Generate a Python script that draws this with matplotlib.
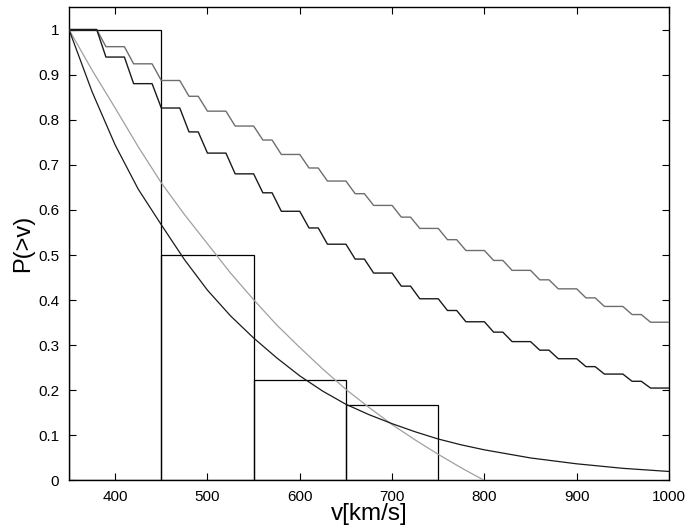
import numpy as np
import matplotlib
matplotlib.use("Agg")
import matplotlib.pyplot as plt

plt.rcParams['font.family'] = ['Liberation Sans', 'DejaVu Sans']

# histogram bins (left edges) and heights
bin_left = [350, 450, 550, 650]
bin_height = [1.0, 0.5, 0.2222, 0.1667]
bin_width = 100

# smooth curves
v_smooth = [350, 375, 400, 425, 450, 475, 500, 525, 550, 575, 600, 625, 650,
            675, 700, 725, 750, 775, 800, 850, 900, 950, 1000]
p_exp = [1.0, 0.862, 0.744, 0.646, 0.567, 0.490, 0.422, 0.365, 0.316, 0.272,
         0.232, 0.198, 0.169, 0.146, 0.126, 0.108, 0.092, 0.079, 0.068, 0.050,
         0.037, 0.027, 0.020]
v_gray = [350, 375, 400, 425, 450, 475, 500, 525, 550, 575, 600, 625, 650,
          675, 700, 725, 750, 775, 800]
p_gray = [1.0, 0.91, 0.826, 0.74, 0.66, 0.59, 0.525, 0.46, 0.401, 0.345,
          0.295, 0.247, 0.202, 0.162, 0.124, 0.09, 0.058, 0.028, 0.0]

# staircase curves, sampled every 10 km/s
v_grid = np.arange(350, 1001, 10)
p_upper = [1, 1, 1, 1, .962, .962, .962, .924, .924, .924,
           .887, .887, .887, .852, .852, .819, .819, .819, .786, .786,
           .786, .755, .755, .723, .723, .723, .693, .693, .664, .664,
           .664, .636, .636, .610, .610, .610, .584, .584, .559, .559,
           .559, .534, .534, .510, .510, .510, .488, .488, .466, .466,
           .466, .445, .445, .425, .425, .425, .405, .405, .386, .386,
           .386, .368, .368, .351, .351, .351]
p_lower = [1, 1, 1, 1, .939, .939, .939, .880, .880, .880,
           .826, .826, .826, .773, .773, .726, .726, .726, .680, .680,
           .680, .638, .638, .597, .597, .597, .560, .560, .524, .524,
           .524, .491, .491, .460, .460, .460, .431, .431, .403, .403,
           .403, .377, .377, .352, .352, .352, .329, .329, .308, .308,
           .308, .289, .289, .270, .270, .270, .2525, .2525, .236, .236,
           .236, .220, .220, .205, .205, .205]

fig = plt.figure(figsize=(6.88, 5.30), dpi=100)
ax = fig.add_axes([0.1003, 0.0934, 0.8721, 0.8934])

ax.bar(bin_left, bin_height, width=bin_width, align='edge', fill=False,
       edgecolor='black', linewidth=0.9, zorder=2)
ax.plot(v_gray, p_gray, color='#a0a0a0', linewidth=0.9, zorder=3)
ax.plot(v_smooth, p_exp, color='#1a1a1a', linewidth=0.9, zorder=3)
ax.plot(v_grid, p_upper, color='#6e6e6e', linewidth=1.0, zorder=3)
ax.plot(v_grid, p_lower, color='#1a1a1a', linewidth=1.0, zorder=3)

ax.set_xlim(350, 1000)
ax.set_ylim(0, 1.05)
ax.set_xticks(np.arange(400, 1001, 100))
ax.set_yticks(np.arange(0, 1.01, 0.1))
ax.set_yticklabels(['0', '0.1', '0.2', '0.3', '0.4', '0.5', '0.6', '0.7',
                    '0.8', '0.9', '1'])
ax.tick_params(direction='in', top=True, right=True, length=5, width=0.8,
               labelsize=11)
ax.tick_params(axis='x', pad=7)
ax.tick_params(axis='y', pad=7)
for s in ax.spines.values():
    s.set_linewidth(1.0)

ax.set_xlabel('v[km/s]', fontsize=17.5, labelpad=-1)
ax.set_ylabel('P(>v)', fontsize=17, labelpad=3)

fig.savefig('out.png', dpi=100)
